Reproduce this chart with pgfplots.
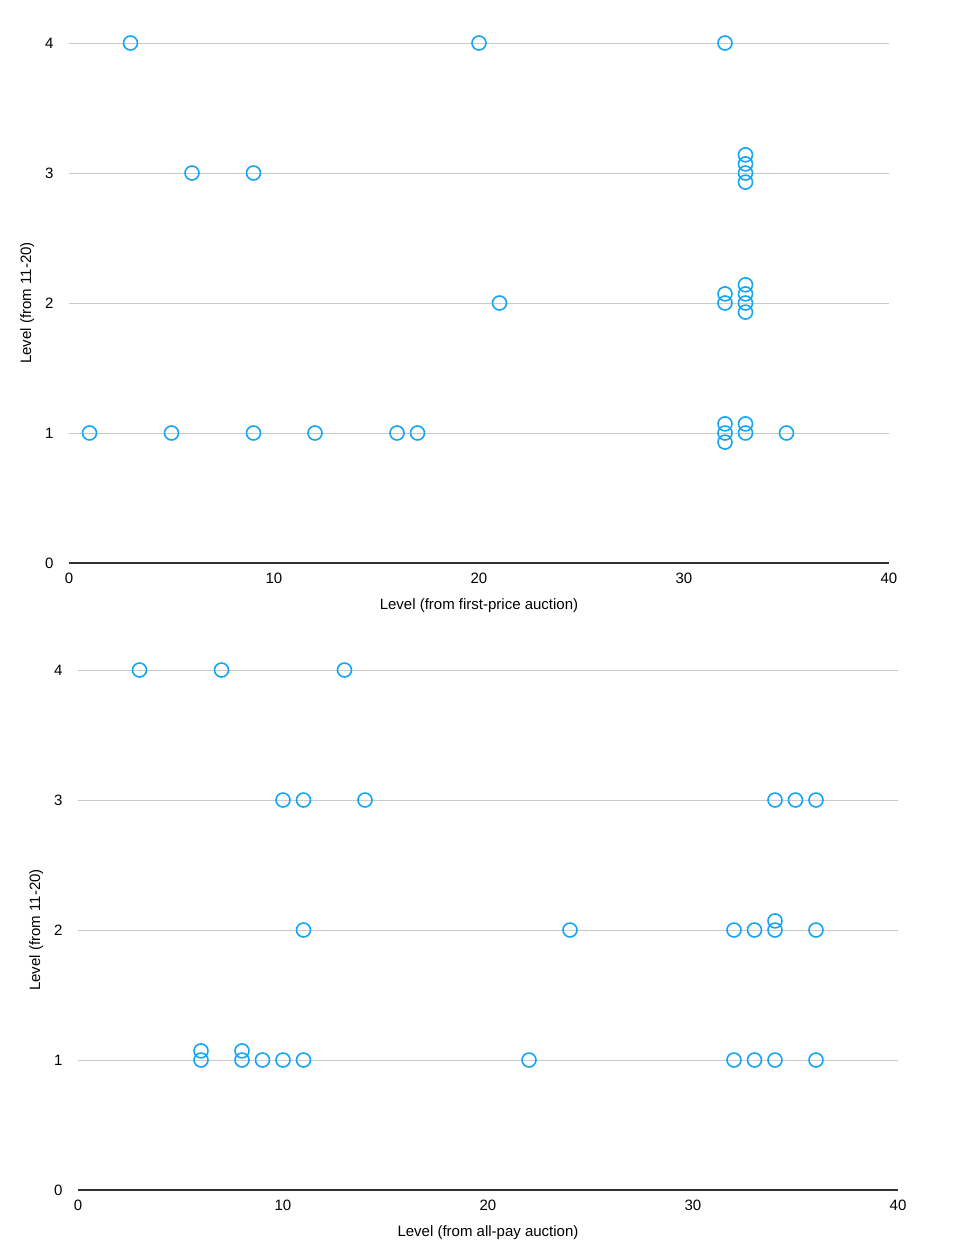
\documentclass[border=0pt]{standalone}
\usepackage{pgfplots}
\pgfplotsset{compat=1.18}
\usepackage{fontspec}
\setmainfont{Liberation Sans}
\definecolor{dotblue}{RGB}{20,166,244}
\definecolor{gridgray}{RGB}{200,200,200}
\definecolor{axisdark}{RGB}{50,50,50}
\pgfplotsset{
  panel/.style={
    scale only axis, width=820pt, height=520pt,
    xmin=0, xmax=40, ymin=0, ymax=4,
    axis x line=bottom, axis y line=left,
    y axis line style={draw=none},
    x axis line style={-, draw=axisdark, line width=2pt},
    xtick={0,10,20,30,40}, ytick={0,1,2,3,4},
    major tick length=0pt,
    ymajorgrids, grid style={gridgray, line width=0.8pt},
    tick label style={font=\fontsize{15}{17}\selectfont},
    /pgf/number format/assume math mode=true,
    xticklabel style={yshift=-6pt},
    yticklabel style={xshift=-12pt},
    label style={font=\fontsize{15}{17}\selectfont},
    xlabel style={yshift=-9pt},
    ylabel style={yshift=4pt},
    clip=false,
  },
  dots/.style={only marks, mark=o, mark size=7pt, mark options={dotblue, line width=1.6pt}},
}
\begin{document}
\begin{tikzpicture}[x=1pt,y=1pt]
\useasboundingbox (0,0) rectangle (966,-1254);
\begin{axis}[panel, at={(69pt,-563pt)}, anchor=origin,
  xlabel={Level (from first-price auction)}, ylabel={Level (from 11-20)}]
\addplot[dots] coordinates {
(3,4) (20,4) (32,4)
(6,3) (9,3) (33,3.14) (33,3.07) (33,3) (33,2.93)
(21,2) (32,2.07) (32,2) (33,2.14) (33,2.07) (33,2) (33,1.93)
(1,1) (5,1) (9,1) (12,1) (16,1) (17,1) (32,1.07) (32,1) (32,0.93) (33,1.07) (33,1) (35,1)
};
\end{axis}
\begin{axis}[panel, at={(78pt,-1190pt)}, anchor=origin,
  xlabel={Level (from all-pay auction)}, ylabel={Level (from 11-20)}]
\addplot[dots] coordinates {
(3,4) (7,4) (13,4)
(10,3) (11,3) (14,3) (34,3) (35,3) (36,3)
(11,2) (24,2) (32,2) (33,2) (34,2.07) (34,2) (36,2)
(6,1.07) (6,1) (8,1.07) (8,1) (9,1) (10,1) (11,1) (22,1) (32,1) (33,1) (34,1) (36,1)
};
\end{axis}
\end{tikzpicture}
\end{document}
